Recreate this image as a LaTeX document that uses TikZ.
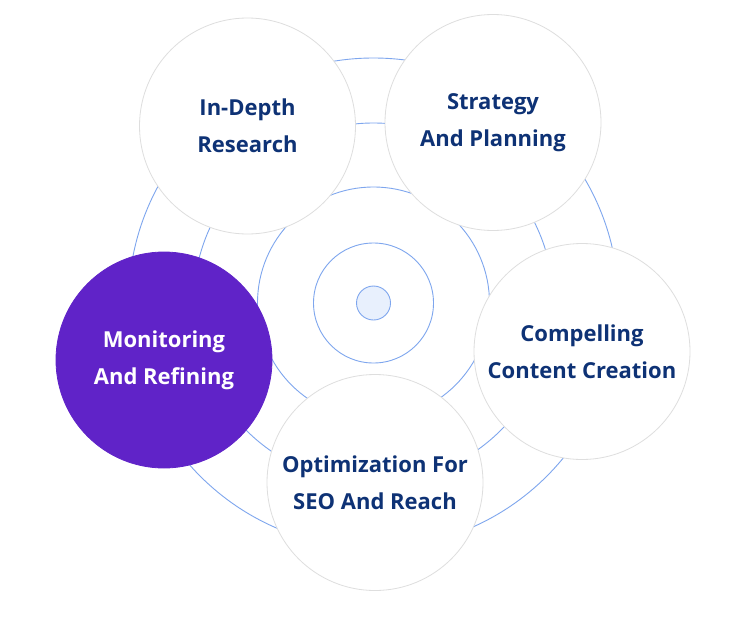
\documentclass[tikz,border=0pt]{standalone}
\usepackage{fontspec}
\setmainfont{Open Sans}
\definecolor{ringblue}{HTML}{7EA6EE}
\definecolor{corefill}{HTML}{E8F0FD}
\definecolor{stageborder}{HTML}{DEDEDE}
\definecolor{navy}{HTML}{0E3275}
\definecolor{stagepurple}{HTML}{6023C8}
\tikzset{ring/.style={draw=ringblue, line width=0.9pt},
  stage/.style={
    circle, draw=stageborder, fill=white, line width=0.8pt,
    minimum size=216pt, inner sep=0pt, align=center,
    text=navy, font=\fontsize{22}{37}\selectfont\bfseries
  },
  stage active/.style={stage, fill=stagepurple, draw=stagepurple, text=white}
}
\begin{document}
\begin{tikzpicture}[x=1pt,y=-1pt]
      \useasboundingbox[fill=white] (0,0) rectangle (736,621);
      \coordinate (c) at (373.5,303);
      \foreach \r in {60,116,180,245} {
        \draw[ring] (c) circle [radius=\r pt];
      }
      \node[circle, ring, fill=corefill, minimum size=34pt, inner sep=0pt] (core) at (c) {};
      \node[stage] (research) at (247.5,126) {In-Depth\\Research};
      \node[stage] (strategy) at (493,122.5) {Strategy\\And Planning};
      \node[stage] (content) at (582,351.5) {Compelling\\Content Creation};
      \node[stage] (seo) at (375,482.5) {Optimization For\\SEO And Reach};
      \node[stage active] (monitor) at (164,360) {Monitoring\\And Refining};
    \end{tikzpicture}
\end{document}
